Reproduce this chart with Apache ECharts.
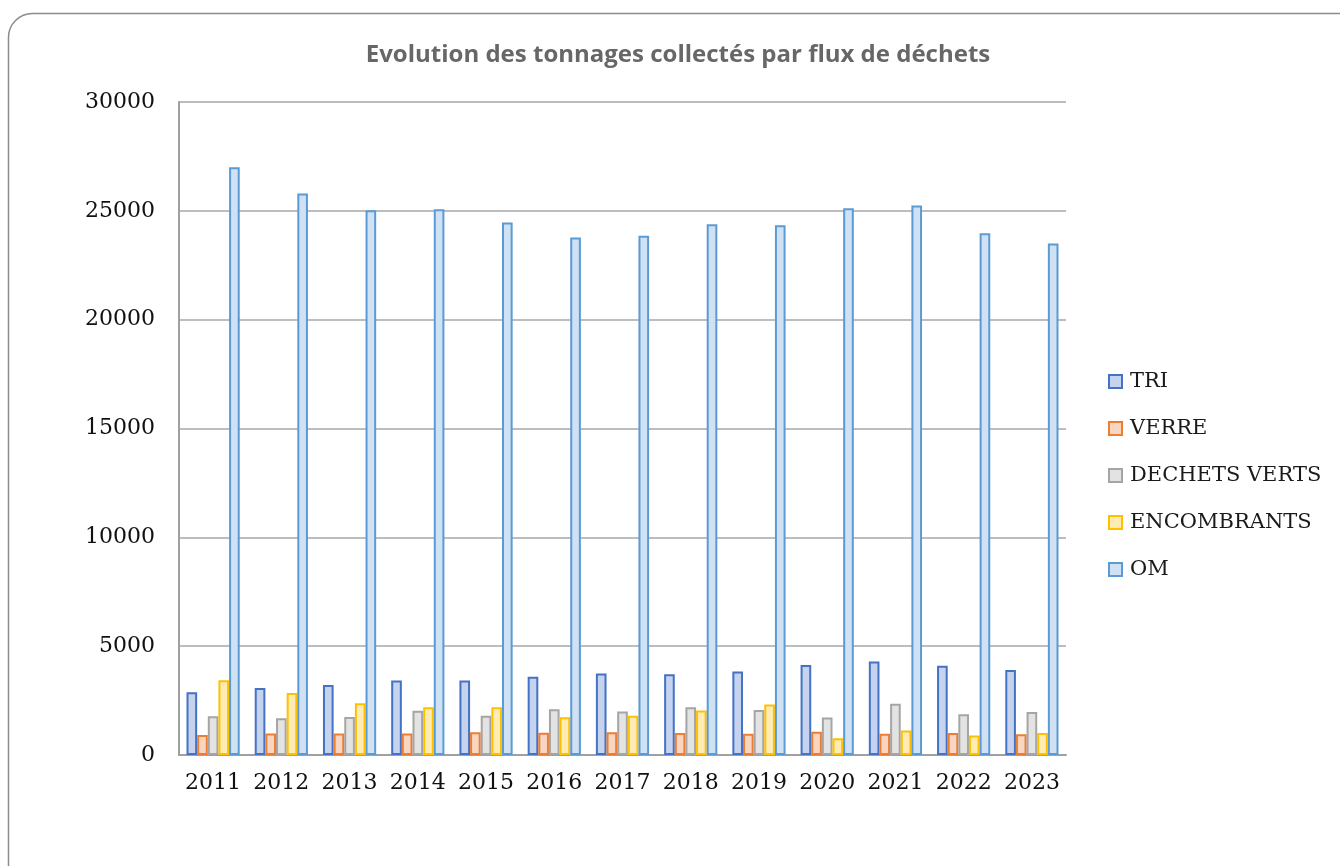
<!DOCTYPE html>
<html>
<head>
<meta charset="utf-8">
<script src="https://cdn.jsdelivr.net/npm/echarts@6/dist/echarts.min.js"></script>
<style>
  html, body { margin: 0; padding: 0; background: #fff; }
  #chart { width: 1340px; height: 866px; }
</style>
</head>
<body>
<div id="chart"></div>
<script>
const years = ['2011', '2012', '2013', '2014', '2015', '2016', '2017', '2018', '2019', '2020', '2021', '2022', '2023'];

const tri = [2880, 3080, 3220, 3420, 3420, 3600, 3740, 3710, 3840, 4130, 4300, 4100, 3900];
const verre = [920, 990, 990, 990, 1040, 1020, 1050, 1010, 980, 1070, 980, 1010, 950];
const dechetsVerts = [1780, 1690, 1750, 2030, 1800, 2100, 2000, 2190, 2070, 1720, 2360, 1870, 1980];
const encombrants = [3430, 2850, 2380, 2190, 2190, 1730, 1800, 2050, 2320, 770, 1120, 900, 1010];
const om = [27000, 25800, 25030, 25070, 24460, 23770, 23860, 24380, 24340, 25120, 25240, 23970, 23500];

const yTicks = [0, 5000, 10000, 15000, 20000, 25000, 30000];

// couleurs : remplissage clair + bordure
const styles = [
    { name: 'TRI', data: tri, fill: '#c5d3ee', border: '#4472c4' },
    { name: 'VERRE', data: verre, fill: '#f8d6c2', border: '#ed7d31' },
    { name: 'DECHETS VERTS', data: dechetsVerts, fill: '#e3e3e3', border: '#a5a5a5' },
    { name: 'ENCOMBRANTS', data: encombrants, fill: '#ffecb5', border: '#ffc000' },
    { name: 'OM', data: om, fill: '#cfe1f3', border: '#5b9bd5' }
];

const chart = echarts.init(document.getElementById('chart'));

const labelFont = 'DejaVu Serif, serif';

const option = {
    animation: false,
    graphic: [{
        type: 'rect',
        silent: true,
        z: -10,
        shape: { x: 8.5, y: 13.5, width: 1360, height: 880, r: 24 },
        style: { fill: 'none', stroke: '#8c8c8c', lineWidth: 1.5 }
    }, {
        type: 'text',
        silent: true,
        x: 678,
        y: 55,
        style: {
            text: 'Evolution des tonnages collectés par flux de déchets',
            align: 'center',
            verticalAlign: 'middle',
            fontFamily: 'Open Sans, sans-serif',
            fontWeight: 'bold',
            fontSize: 24,
            fill: '#676767'
        }
    }],
    legend: {
        orient: 'vertical',
        left: 1108,
        top: 371,
        padding: 0,
        itemWidth: 13,
        itemHeight: 13,
        itemGap: 26,
        icon: 'rect',
        textStyle: {
            fontFamily: labelFont,
            fontSize: 21,
            color: '#1a1a1a',
            padding: [0, 0, 0, 3]
        },
        data: styles.map(s => s.name)
    },
    grid: {
        left: 179,
        right: 274,
        top: 102,
        bottom: 111,
        containLabel: false
    },
    xAxis: {
        type: 'category',
        data: years,
        axisLine: { lineStyle: { color: '#a0a0a0', width: 2 } },
        axisTick: { show: false },
        axisLabel: {
            interval: 0,
            fontFamily: labelFont,
            fontSize: 22,
            color: '#111',
            margin: 17
        }
    },
    yAxis: {
        type: 'value',
        min: yTicks[0],
        max: yTicks[yTicks.length - 1],
        interval: 5000,
        axisLine: { show: true, lineStyle: { color: '#a0a0a0', width: 2 } },
        axisTick: { show: false },
        axisLabel: {
            fontFamily: labelFont,
            fontSize: 22,
            color: '#111',
            margin: 24,
            formatter: v => String(v)
        },
        splitLine: { lineStyle: { color: '#bdbdbd', width: 2 } }
    },
    series: styles.map(s => ({
        name: s.name,
        type: 'bar',
        data: s.data,
        barGap: '0%',
        barCategoryGap: '22%',
        itemStyle: {
            color: s.fill,
            borderColor: s.border,
            borderWidth: 2
        }
    }))
};

chart.setOption(option);
</script>
</body>
</html>
